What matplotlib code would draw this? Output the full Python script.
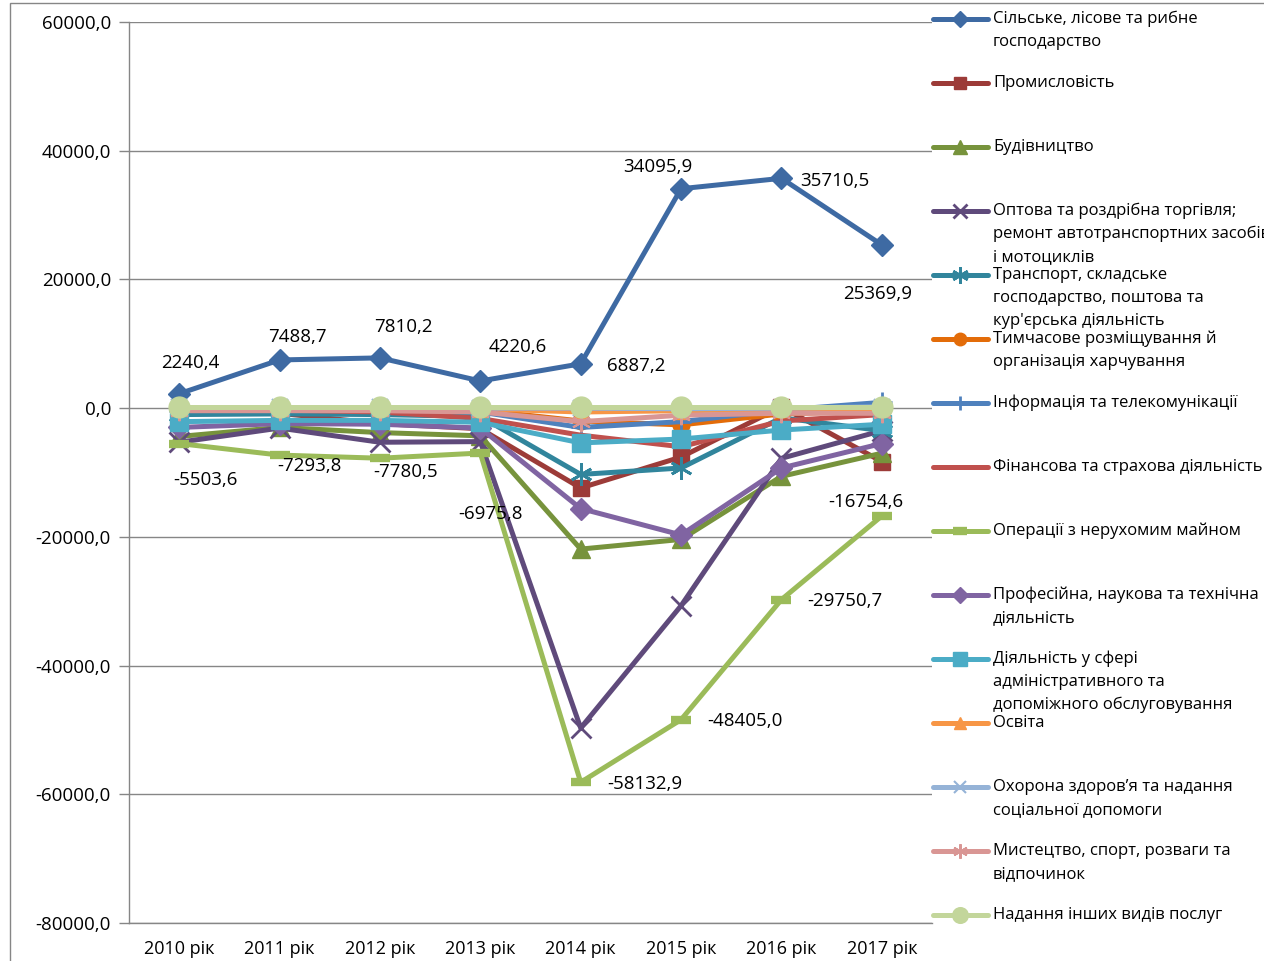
import matplotlib
matplotlib.use("Agg")
import matplotlib.pyplot as plt
from matplotlib.lines import Line2D
from matplotlib.patches import Rectangle
from matplotlib.ticker import FuncFormatter

plt.rcParams['font.family'] = ['Open Sans', 'DejaVu Sans']

years = ['2010 рік', '2011 рік', '2012 рік', '2013 рік', '2014 рік', '2015 рік', '2016 рік', '2017 рік']

agri = [2240.4, 7488.7, 7810.2, 4220.6, 6887.2, 34095.9, 35710.5, 25369.9]
industry = [-600, -800, -2400, -3200, -12400, -7600, 200, -8300]
construction = [-4400, -3000, -3800, -4300, -21900, -20400, -10600, -7000]
trade = [-5300, -3100, -5300, -5200, -49700, -30700, -7800, -3500]
transport = [-1000, -900, -1000, -1300, -10300, -9300, -1500, -3500]
hospitality = [0, 100, 0, -300, -2000, -2600, -900, -400]
info = [-400, -300, -400, -600, -3000, -2100, -300, 900]
finance = [-200, -300, -600, -1600, -4200, -6000, -2000, -1000]
real_estate = [-5503.6, -7293.8, -7780.5, -6975.8, -58132.9, -48405.0, -29750.7, -16754.6]
professional = [-3000, -2400, -2500, -3100, -15600, -19700, -9300, -5500]
admin = [-2100, -1900, -1900, -2200, -5400, -4800, -3400, -2500]
education = [0, 0, 0, -100, -600, -400, -200, -100]
health = [100, 100, 100, 0, 0, -100, 0, 200]
arts = [-400, -400, -400, -600, -2100, -1100, -800, -800]
other = [100, 100, 100, 100, 100, 100, 100, 100]

names = [
    "Сільське, лісове та рибне\nгосподарство",
    "Промисловість",
    "Будівництво",
    "Оптова та роздрібна торгівля;\nремонт автотранспортних засобів\nі мотоциклів",
    "Транспорт, складське\nгосподарство, поштова та\nкур'єрська діяльність",
    "Тимчасове розміщування й\nорганізація харчування",
    "Інформація та телекомунікації",
    "Фінансова та страхова діяльність",
    "Операції з нерухомим майном",
    "Професійна, наукова та технічна\nдіяльність",
    "Діяльність у сфері\nадміністративного та\nдопоміжного обслуговування",
    "Освіта",
    "Охорона здоров’я та надання\nсоціальної допомоги",
    "Мистецтво, спорт, розваги та\nвідпочинок",
    "Надання інших видів послуг",
]
series = [agri, industry, construction, trade, transport, hospitality, info, finance,
          real_estate, professional, admin, education, health, arts, other]

asterisk = (6, 2, 0)
styles = [
    dict(color='#3E6AA3', marker='D', ms=11, mew=1),
    dict(color='#9C3B38', marker='s', ms=11, mew=1),
    dict(color='#77933C', marker='^', ms=13, mew=1),
    dict(color='#5F4A7B', marker='x', ms=14, mew=2),
    dict(color='#31859C', marker=asterisk, ms=16, mew=2),
    dict(color='#E36C09', marker='o', ms=12, mew=1),
    dict(color='#4F81BD', marker='+', ms=14, mew=2),
    dict(color='#C0504D', marker=None, ms=0, mew=0),
    dict(color='#9BBB59', marker='_', ms=14, mew=6),
    dict(color='#8064A2', marker='D', ms=11, mew=1),
    dict(color='#4BACC6', marker='s', ms=13, mew=1),
    dict(color='#F79646', marker='^', ms=12, mew=1),
    dict(color='#95B3D7', marker='x', ms=12, mew=1.5),
    dict(color='#D99694', marker=asterisk, ms=14, mew=1.5),
    dict(color='#C3D69B', marker='o', ms=15, mew=1),
]

W, H = 1264, 961
fig = plt.figure(figsize=(W / 100, H / 100), dpi=100)
ax = fig.add_axes([129 / W, 1 - 923 / H, (932 - 129) / W, (923 - 22) / H])

x = list(range(len(years)))
for i, (vals, st) in enumerate(zip(series, styles)):
    ax.plot(x, vals, color=st['color'], lw=3.6, marker=st['marker'], ms=st['ms'],
            mew=st['mew'], mfc=st['color'], mec=st['color'], zorder=3 + i,
            solid_joinstyle='round', clip_on=False)

ax.set_xlim(-0.5, len(years) - 0.5)
ax.set_ylim(-80000, 60000)
ax.set_yticks(range(-80000, 60001, 20000))
ax.yaxis.set_major_formatter(FuncFormatter(lambda v, p: f"{v:.1f}".replace('.', ',')))
ax.set_xticks(x)
ax.set_xticklabels(years)
ax.tick_params(axis='x', length=0, pad=12, labelsize=13, colors='black')
ax.tick_params(axis='y', length=7, width=1, color='#868686', pad=6, labelsize=13.5)
ax.grid(axis='y', color='#868686', lw=1)
ax.set_axisbelow(True)
for s in ['top', 'right']:
    ax.spines[s].set_visible(False)
for s in ['left', 'bottom']:
    ax.spines[s].set_color('#868686')
    ax.spines[s].set_linewidth(1)

# data labels
agri_off = [(11, -31), (18, -23), (23, -31), (37, -34), (55, 2), (-23, -22), (53, 3), (-4, 49)]
re_off = [(26, 36), (30, 11), (26, 14), (10, 61), (64, 2), (64, 1), (63, 1), (-16, -14)]
for vals, offs in [(agri, agri_off), (real_estate, re_off)]:
    for xi, v, (dx, dy) in zip(x, vals, offs):
        ax.annotate(f"{v:.1f}".replace('.', ','), (xi, v), xytext=(dx, -dy),
                    textcoords='offset pixels', ha='center', va='center',
                    fontsize=13.5, zorder=30, annotation_clip=False)

# legend (manual, Excel-style top-aligned)
for i, (name, st) in enumerate(zip(names, styles)):
    yc = 19 + 64 * i
    fy = 1 - yc / H
    fig.add_artist(Line2D([933 / W, 988 / W], [fy, fy], transform=fig.transFigure,
                          color=st['color'], lw=3.6, solid_capstyle='round'))
    if st['marker'] is not None:
        fig.add_artist(Line2D([960 / W], [fy], transform=fig.transFigure,
                              color=st['color'], marker=st['marker'],
                              ms=st['ms'] * 0.75, mew=st['mew'], mfc=st['color'],
                              mec=st['color'], lw=0))
    for k, line in enumerate(name.split('\n')):
        fig.text(993 / W, 1 - (yc + 23 * k) / H, line, ha='left', va='center',
                 fontsize=12)

# chart area border
fig.add_artist(Rectangle((10 / W, -0.1), 1.2, 1.1 - 3 / H, transform=fig.transFigure,
                         fill=False, edgecolor='#868686', lw=1))

fig.savefig('out.png', dpi=100)
